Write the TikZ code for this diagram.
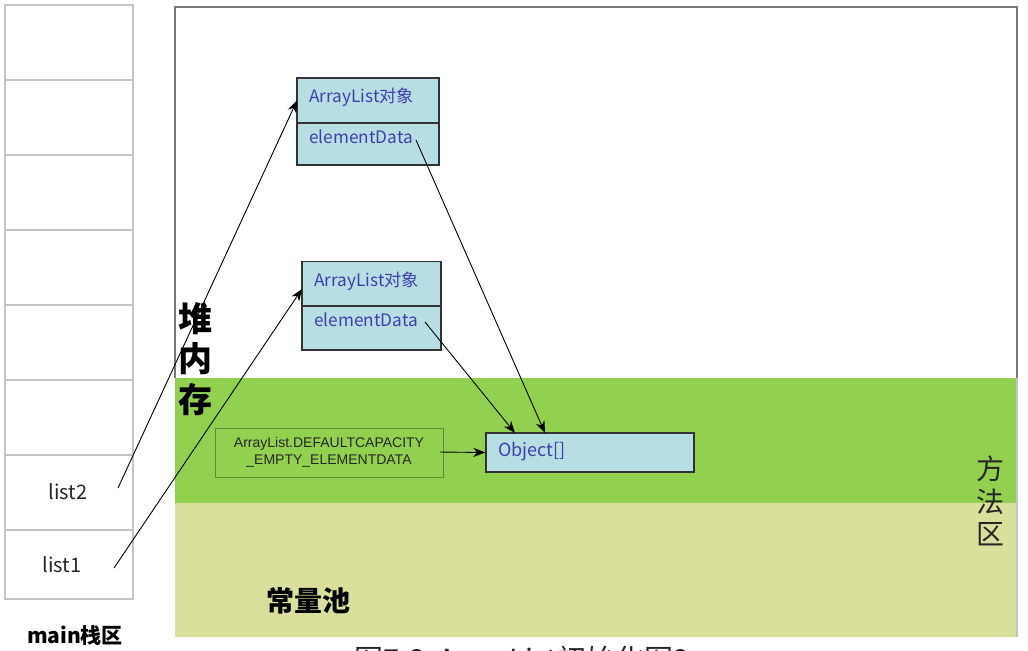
\documentclass[tikz,border=0pt]{standalone}
\usepackage{fontspec}
\setmainfont{Noto Sans CJK SC}
\newfontfamily\arialfont{Liberation Sans}
\usetikzlibrary{arrows.meta,calc}
\definecolor{heapgreen}{RGB}{146,208,80}
\definecolor{poolkhaki}{RGB}{216,224,156}
\definecolor{objfill}{RGB}{183,222,226}
\definecolor{objtext}{RGB}{64,64,168}
\definecolor{stackline}{RGB}{196,196,196}
\definecolor{heapline}{RGB}{120,120,120}
\definecolor{constbox}{RGB}{96,140,56}
\begin{document}
\begin{tikzpicture}[x=0.5pt,y=-0.5pt,
  objpart/.style={draw=black!80,line width=0.7pt,fill=objfill,minimum width=71pt,
    minimum height=22.5pt,inner sep=0pt,outer sep=0pt},
  objlabel/.style={anchor=west,text=objtext,font=\fontsize{8.6pt}{10pt}\selectfont,inner sep=0pt},
  ptr/.style={-{Stealth[length=6pt,width=4.6pt]},black,line width=0.45pt},
  stacklabel/.style={font=\fontsize{10pt}{12pt}\selectfont,text=black!85}]
\useasboundingbox (0,0) rectangle (1028,650);

% method area: method area band and constant pool
\fill[poolkhaki] (175,503) rectangle (1017,637);
\fill[heapgreen] (175,378) rectangle (1017,503);
\draw[stackline,line width=0.6pt] (1017,378) -- (1017,637);

% heap outline
\draw[heapline,line width=1pt] (175,378) -- (175,7) -- (1017,7) -- (1017,378);

% main stack frame cells
\draw[stackline,line width=1pt] (5,5) rectangle (133,599);
\foreach \yy in {80,155,230,305,380,455,530}
  \draw[stackline,line width=1pt] (5,\yy) -- (133,\yy);
\node[stacklabel] (list2) at (68,492) {list2};
\node[stacklabel] (list1) at (62,565) {list1};
\node[font=\fontsize{10.5pt}{12pt}\selectfont\bfseries] (mainstack) at (75,636) {main栈区};

% region labels
\node[font=\fontsize{17pt}{20pt}\selectfont\bfseries,align=center,inner sep=0pt] (heaplbl) at (195,359)
  {堆\\[0.3pt]内\\[0.3pt]存};
\node[font=\fontsize{14pt}{17pt}\selectfont,align=center,inner sep=0pt,text=black!85] (methodlbl) at (990,501)
  {方\\[-0.8pt]法\\[-0.8pt]区};
\node[font=\fontsize{14pt}{17pt}\selectfont\bfseries] (poollbl) at (308,601) {常量池};

% first ArrayList object
\node[objpart] (b1top) at (368,100.5) {};
\node[objpart,minimum height=21pt] (b1bot) at (368,144) {};
\node[objlabel] (b1name) at (309,97) {ArrayList对象};
\node[objlabel] (b1data) at (309,137) {elementData};

% second ArrayList object
\node[objpart,minimum width=69.5pt] (b2top) at (371.5,284) {};
\node[objpart,minimum width=69.5pt,minimum height=22pt] (b2bot) at (371.5,328) {};
\node[objlabel] (b2name) at (314,281) {ArrayList对象};
\node[objlabel] (b2data) at (314,320) {elementData};

% shared empty array
\node[draw=black!80,line width=0.7pt,fill=objfill,minimum width=104pt,minimum height=19.5pt,
  inner sep=0pt] (objarr) at (590,452.5) {};
\node[objlabel,font=\fontsize{9pt}{11pt}\selectfont] (objarrlbl) at (498,452) {Object[]};

% constant DEFAULTCAPACITY_EMPTY_ELEMENTDATA
\node[draw=constbox,line width=0.5pt,minimum width=114pt,minimum height=24.5pt,inner sep=0pt,
  align=center,font=\arialfont\fontsize{7pt}{8.6pt}\selectfont,text=black!85] (emptydata) at (329,452.5)
  {ArrayList.DEFAULTCAPACITY\\\_EMPTY\_ELEMENTDATA};

% reference arrows
\coordinate (l2out) at (118,488);
\coordinate (l1out) at (114,568);
\coordinate (e1out) at (416,140);
\coordinate (e2out) at (425,322);
\coordinate (cout) at (440,452);
\coordinate (arrin1) at (545,433);
\coordinate (arrin2) at (515,433);
\draw[ptr] (l2out) -- (b1top.west);
\draw[ptr] (l1out) -- ($(b2top.west)+(0,5)$);
\draw[ptr] (e1out) -- (arrin1);
\draw[ptr] (e2out) -- (arrin2);
\draw[ptr] (cout) -- (objarr.west);

% figure caption, cut by the page edge
\begin{scope}
\clip (0,0) rectangle (1028,650);
\node[anchor=base,font=\fontsize{14.5pt}{17pt}\selectfont,text=black!85] (caption) at (522,670)
  {图7-3\ \ ArrayList初始化图2};
\end{scope}
\end{tikzpicture}
\end{document}
